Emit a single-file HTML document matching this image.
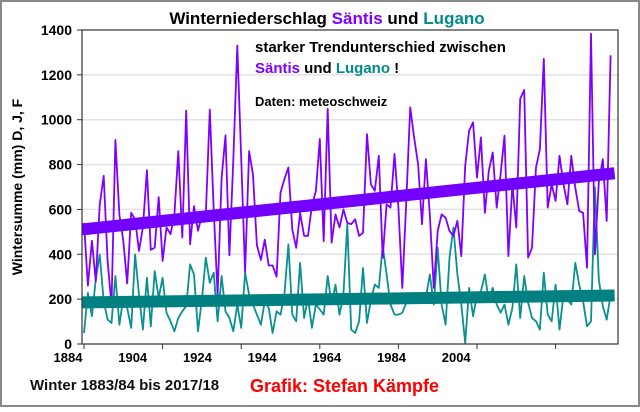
<!DOCTYPE html>
<html><head><meta charset="utf-8">
<style>
body{margin:0;background:#fff;}
svg text{font-family:"Liberation Sans",Arial,sans-serif;}
</style></head>
<body>
<svg id="chart" width="640" height="407" viewBox="0 0 640 407" xmlns="http://www.w3.org/2000/svg">
<rect x="1" y="1" width="638" height="405" fill="#fff" stroke="#888" stroke-width="2"/>
<text x="327" y="24" text-anchor="middle" font-size="17" font-weight="bold"><tspan fill="#000">Winterniederschlag </tspan><tspan fill="#7f00ff">Säntis</tspan><tspan fill="#000"> und </tspan><tspan fill="#008b8b">Lugano</tspan></text>
<text transform="translate(22,187) rotate(-90)" text-anchor="middle" font-size="14" font-weight="bold">Wintersumme (mm) D, J, F</text>
<g id="grid"></g>
<g id="yticks"></g>
<g id="xticks"></g>
<g id="series"></g>
<rect x="82" y="30" width="536" height="314" fill="none" stroke="#333" stroke-width="1.2"/>
<text x="255" y="52" font-size="15" font-weight="bold">starker Trendunterschied zwischen</text>
<text x="255" y="73" font-size="15" font-weight="bold"><tspan fill="#7f00ff">Säntis</tspan> und <tspan fill="#008b8b">Lugano</tspan> !</text>
<text x="255" y="106" font-size="13" font-weight="bold">Daten: meteoschweiz</text>
<text x="30" y="390" font-size="15" font-weight="bold" fill="#111">Winter 1883/84 bis 2017/18</text>
<text x="250" y="392" font-size="18" font-weight="bold" fill="#ff0000">Grafik: Stefan Kämpfe</text>
</svg>
<script>
const startYear = 1884;
const saentis = [540,260,460,280,620,750,370,175,910,575,460,270,585,555,415,520,775,420,430,655,370,520,490,575,860,475,1040,445,615,505,570,575,1045,600,
220,740,930,395,820,1330,830,320,860,755,440,375,465,350,350,300,675,735,787,511,429,585,482,482,617,683,914,459,1048,452,578,520,600,540,
534,556,482,496,936,712,683,839,385,623,608,847,608,250,638,1055,921,802,534,824,578,250,504,578,563,504,482,549,392,795,951,988,742,921,
585,772,854,608,757,929,392,712,519,1093,1133,385,429,787,869,1271,608,712,638,839,712,623,839,697,593,585,340,1383,400,720,824,549,1287];
const lugano = [49,228,124,288,399,191,109,94,303,86,206,161,72,399,220,64,295,79,325,206,295,139,101,57,116,146,169,355,310,57,198,385,273,318,
101,303,146,116,57,176,72,318,220,176,131,86,191,161,49,146,131,220,444,131,101,362,116,206,72,176,154,131,303,176,265,131,220,534,
64,49,101,339,94,198,265,250,437,310,176,131,131,139,184,191,213,191,198,206,310,176,429,176,86,385,519,310,176,5,250,124,220,235,
310,191,250,176,139,176,86,161,355,116,303,184,116,101,64,318,131,101,265,64,220,198,176,362,265,191,79,101,698,288,169,109,220];
const yTicks = [0,200,400,600,800,1000,1200,1400];
const xTickLabels = ["1884","1904","1924","1944","1964","1984","2004"];

const NS = "http://www.w3.org/2000/svg";
const X0 = 84, DX = 3.93, Y0 = 344, YMAX = 1400, PH = 314;
function xPos(i){ return X0 + i*DX; }
function yPos(v){ return Y0 - v/YMAX*PH; }
function mk(tag, attrs, parent){ const e=document.createElementNS(NS,tag); for(const k in attrs) e.setAttribute(k,attrs[k]); document.getElementById(parent).appendChild(e); return e; }

yTicks.forEach(v=>{
  if(v>0 && v<YMAX){
    const g = mk('line',{x1:82,x2:618,y1:yPos(v),y2:yPos(v),stroke:'#e2e2e2','stroke-width':1.5},'grid');
    
    
  }
  const t = mk('line',{x1:77,x2:82,y1:yPos(v),y2:yPos(v),stroke:'#333'},'yticks');
  
  
  const l = mk('text',{x:72,y:yPos(v)+5,'text-anchor':'end','font-size':14,'font-weight':'bold'},'yticks');
  l.textContent = v;
  
  
});
xTickLabels.forEach((s,k)=>{
  const i = +s - startYear;
  const t = mk('line',{x1:xPos(i),x2:xPos(i),y1:344,y2:349,stroke:'#333'},'xticks');
  
  
  const l = mk('text',{x:68+k*64.7,y:362,'text-anchor':'middle','font-size':13,'font-weight':'bold'},'xticks');
  l.textContent = s;
  
  
});

function trend(arr){
  const n=arr.length; let sx=0,sy=0,sxx=0,sxy=0;
  arr.forEach((v,i)=>{sx+=i;sy+=v;sxx+=i*i;sxy+=i*v;});
  const b=(n*sxy-sx*sy)/(n*sxx-sx*sx), a=(sy-b*sx)/n;
  return [a, a+b*(n-1)];
}
function drawSeries(arr, color, name){
  const pts = arr.map((v,i)=>xPos(i).toFixed(1)+','+yPos(v).toFixed(1)).join(' ');
  const p = mk('polyline',{points:pts,fill:'none',stroke:color,'stroke-width':1.8,'stroke-linejoin':'round'},'series');
  
  
}
function drawTrend(arr, color, name){
  const [a,b] = trend(arr);
  const t = mk('line',{x1:xPos(0)-2,x2:xPos(arr.length-1)+4,y1:yPos(a),y2:yPos(b),stroke:color,'stroke-width':12},'series');
  
  
}
drawSeries(lugano,'#0a9090','lugano');
drawSeries(saentis,'#7f00ff','saentis');
drawTrend(lugano,'#008080','lugano');
drawTrend(saentis,'#7300ff','saentis');
</script>
</body></html>
